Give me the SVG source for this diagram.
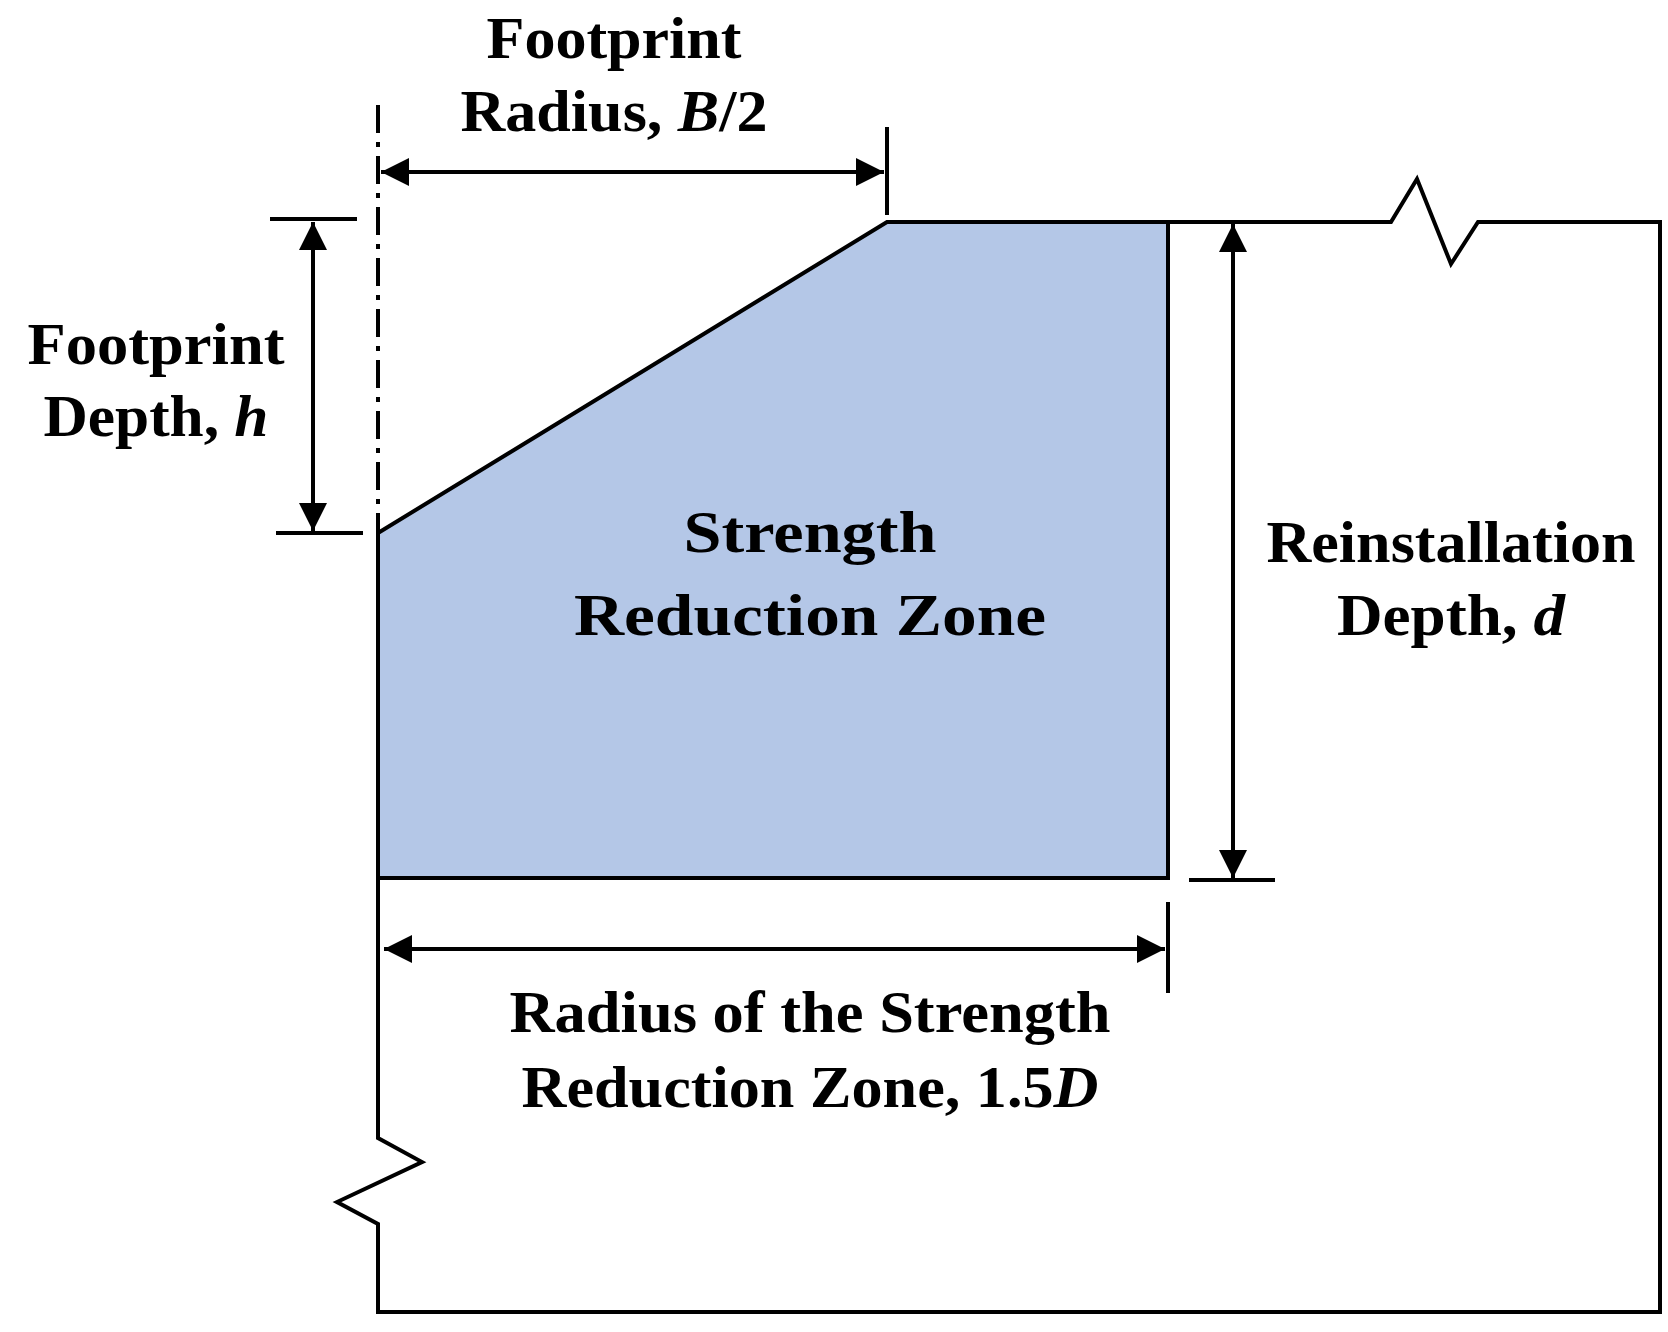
<svg xmlns="http://www.w3.org/2000/svg" width="1668" height="1332" viewBox="0 0 1668 1332">
<style>
.l{stroke:#000;stroke-width:4;fill:none}
.t{font-family:"Liberation Serif",serif;font-weight:bold;font-size:60px;text-anchor:middle;fill:#000}
.i{font-style:italic}
</style>
<defs>
<marker id="a" viewBox="0 0 10 10" refX="10" refY="5" markerWidth="7" markerHeight="7" orient="auto-start-reverse" markerUnits="strokeWidth"><path d="M0,0 L10,5 L0,10 z" fill="#000"/></marker>
</defs>
<rect width="1668" height="1332" fill="#fff"/>
<g id="zone"><polygon points="378,533 887,222 1168,222 1168,878 378,878" fill="#B4C7E7" stroke="#000" stroke-width="4"/></g>
<g id="soil"><polyline class="l" points="378,878 378,1138 422,1162 337,1202 378,1224 378,1312 1660,1312 1660,222 1478,222 1451,264 1417,179 1391,222 1168,222"/></g>
<g id="connectors">
<line class="l" x1="378" y1="105" x2="378" y2="533" stroke-dasharray="28,9,5,9" stroke-width="3"/>
<line class="l" x1="381" y1="172" x2="884" y2="172" marker-start="url(#a)" marker-end="url(#a)" stroke-width="3"/>
<line class="l" x1="887" y1="127" x2="887" y2="215" stroke-width="3"/>
<line class="l" x1="313" y1="222" x2="313" y2="531" marker-start="url(#a)" marker-end="url(#a)" stroke-width="3"/>
<line class="l" x1="270" y1="219" x2="357" y2="219" stroke-width="3"/>
<line class="l" x1="276" y1="533" x2="363" y2="533" stroke-width="3"/>
<line class="l" x1="1233" y1="224" x2="1233" y2="878" marker-start="url(#a)" marker-end="url(#a)" stroke-width="3"/>
<line class="l" x1="1189" y1="880" x2="1275" y2="880" stroke-width="3"/>
<line class="l" x1="384" y1="949" x2="1165" y2="949" marker-start="url(#a)" marker-end="url(#a)" stroke-width="3"/>
<line class="l" x1="1168" y1="902" x2="1168" y2="993" stroke-width="3"/>
</g>
<g id="labels">
<text class="t" x="614" y="58" textLength="255" lengthAdjust="spacingAndGlyphs">Footprint</text>
<text class="t" x="614" y="131" textLength="307" lengthAdjust="spacingAndGlyphs">Radius, <tspan class="i">B</tspan>/2</text>
<text class="t" x="156" y="364" textLength="257" lengthAdjust="spacingAndGlyphs">Footprint</text>
<text class="t" x="156" y="436" textLength="225" lengthAdjust="spacingAndGlyphs">Depth, <tspan class="i">h</tspan></text>
<text class="t" x="810" y="552" textLength="253" lengthAdjust="spacingAndGlyphs">Strength</text>
<text class="t" x="810" y="635" textLength="472" lengthAdjust="spacingAndGlyphs">Reduction Zone</text>
<text class="t" x="1451" y="562" textLength="369" lengthAdjust="spacingAndGlyphs">Reinstallation</text>
<text class="t" x="1451" y="635" textLength="228" lengthAdjust="spacingAndGlyphs">Depth, <tspan class="i">d</tspan></text>
<text class="t" x="810" y="1032" textLength="601" lengthAdjust="spacingAndGlyphs">Radius of the Strength</text>
<text class="t" x="810" y="1107" textLength="577" lengthAdjust="spacingAndGlyphs">Reduction Zone, 1.5<tspan class="i">D</tspan></text>
</g>
</svg>
